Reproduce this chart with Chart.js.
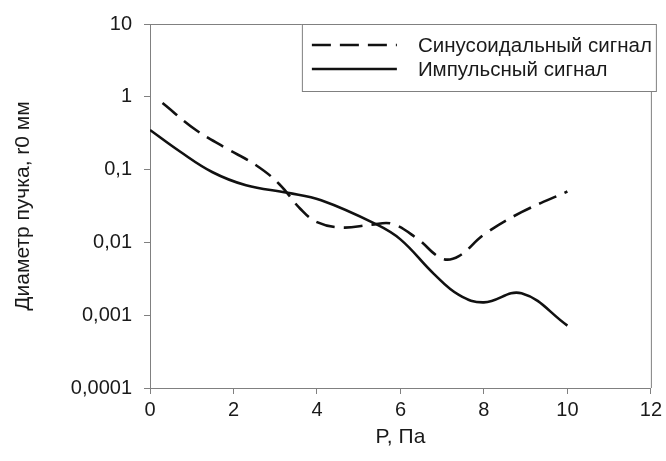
<!DOCTYPE html>
<html>
<head>
<meta charset="utf-8">
<script src="https://cdn.jsdelivr.net/npm/chart.js@4.4.1/dist/chart.umd.min.js"></script>
<style>
  html, body { margin: 0; padding: 0; background: #fff; }
  #wrap { width: 666px; height: 461px; }
</style>
</head>
<body>
<div id="wrap"><canvas id="c" width="666" height="461"></canvas></div>
<script>
// ---- Data ----
const sineLabel = 'Синусоидальный сигнал';
const sineX = [0.3, 1.1, 1.8, 2.55, 3.1, 3.6, 4.0, 4.6, 5.3, 5.8, 6.4, 7.0, 7.4, 8.0, 8.9, 10];
const sineY = [0.82, 0.35, 0.2, 0.114, 0.063, 0.029, 0.019, 0.016, 0.0175, 0.018, 0.0113, 0.006, 0.0065, 0.0128, 0.026, 0.05];

const pulseLabel = 'Импульсный сигнал';
const pulseX = [0, 0.7, 1.5, 2.3, 3.3, 4.1, 5.4, 6.0, 6.8, 7.4, 8.0, 8.9, 10];
const pulseY = [0.35, 0.18, 0.092, 0.061, 0.048, 0.038, 0.018, 0.011, 0.0037, 0.0019, 0.0015, 0.002, 0.00072];

const yTickValues = [0.0001, 0.001, 0.01, 0.1, 1, 10];
const yTickLabels = ['0,0001', '0,001', '0,01', '0,1', '1', '10'];
const xTickValues = [0, 2, 4, 6, 8, 10, 12];

const xTitle = 'P, Па';
const yTitle = 'Диаметр пучка, r0 мм';

// ---- Chart ----
const FONT = "'Liberation Sans', Arial, sans-serif";
const TXT = '#1a1a1a';
const AX = '#808080';

function pts(xs, ys) { return xs.map((x, i) => ({ x: x, y: ys[i] })); }

const framePlugin = {
  id: 'frame',
  afterDatasetsDraw(chart) {
    const { ctx, chartArea: a } = chart;
    ctx.save();
    ctx.strokeStyle = AX;
    ctx.lineWidth = 1;
    ctx.beginPath();
    ctx.moveTo(a.left, a.top + 0.5);
    ctx.lineTo(a.right + 0.5, a.top + 0.5);
    ctx.lineTo(a.right + 0.5, a.bottom);
    ctx.stroke();
    ctx.restore();
  }
};

const boxLegend = {
  id: 'boxLegend',
  afterDraw(chart) {
    const { ctx, chartArea: a } = chart;
    const w = 355, h = 68;
    const x0 = a.right + 6 - w, y0 = a.top;
    ctx.save();
    ctx.fillStyle = '#fff';
    ctx.fillRect(x0, y0, w, h);
    ctx.strokeStyle = AX;
    ctx.lineWidth = 1;
    ctx.strokeRect(x0 + 0.5, y0 + 0.5, w - 1, h - 1);
    chart.data.datasets.forEach((ds, i) => {
      const yy = y0 + 21 + i * 24;
      ctx.beginPath();
      ctx.strokeStyle = ds.borderColor;
      ctx.lineWidth = ds.borderWidth;
      ctx.setLineDash(ds.borderDash || []);
      ctx.moveTo(x0 + 10, yy);
      ctx.lineTo(x0 + 95, yy);
      ctx.stroke();
      ctx.setLineDash([]);
      ctx.fillStyle = TXT;
      ctx.font = '20.5px ' + FONT;
      ctx.textBaseline = 'middle';
      ctx.textAlign = 'left';
      ctx.fillText(ds.label, x0 + 116, yy + 1);
    });
    ctx.restore();
  }
};

new Chart(document.getElementById('c'), {
  type: 'line',
  data: {
    datasets: [
      {
        label: sineLabel,
        data: pts(sineX, sineY),
        borderColor: '#111',
        borderWidth: 2.6,
        borderDash: [19, 9],
        pointRadius: 0,
        tension: 0.4,
        fill: false
      },
      {
        label: pulseLabel,
        data: pts(pulseX, pulseY),
        borderColor: '#111',
        borderWidth: 2.6,
        pointRadius: 0,
        tension: 0.4,
        fill: false
      }
    ]
  },
  options: {
    responsive: false,
    animation: false,
    events: [],
    layout: { padding: { left: 0, right: 14, top: 19, bottom: 0 } },
    plugins: {
      legend: { display: false },
      tooltip: { enabled: false }
    },
    scales: {
      x: {
        type: 'linear',
        min: 0, max: 12,
        afterBuildTicks(scale) { scale.ticks = xTickValues.map(v => ({ value: v })); },
        afterFit(scale) { scale.height = 73; },
        ticks: { color: TXT, font: { family: FONT, size: 20 }, padding: 4, maxRotation: 0 },
        grid: { display: true, drawOnChartArea: false, drawTicks: true, tickLength: 6, color: AX },
        border: { display: true, color: AX, width: 1 },
        title: { display: true, text: xTitle, color: TXT, font: { family: FONT, size: 21 }, padding: { top: 0, bottom: 11 } }
      },
      y: {
        type: 'logarithmic',
        min: yTickValues[0], max: yTickValues[yTickValues.length - 1],
        afterBuildTicks(scale) { scale.ticks = yTickValues.map(v => ({ value: v })); },
        afterFit(scale) { scale.width = 150; },
        ticks: {
          color: TXT, font: { family: FONT, size: 20 }, padding: 12,
          callback(v) { const i = yTickValues.findIndex(t => Math.abs(t - v) / t < 1e-6); return i >= 0 ? yTickLabels[i] : ''; }
        },
        grid: { display: true, drawOnChartArea: false, drawTicks: true, tickLength: 6, color: AX },
        border: { display: true, color: AX, width: 1 },
        title: { display: true, text: yTitle, color: TXT, font: { family: FONT, size: 21 }, padding: { top: 11, bottom: 0 } }
      }
    }
  },
  plugins: [framePlugin, boxLegend]
});
</script>
</body>
</html>
